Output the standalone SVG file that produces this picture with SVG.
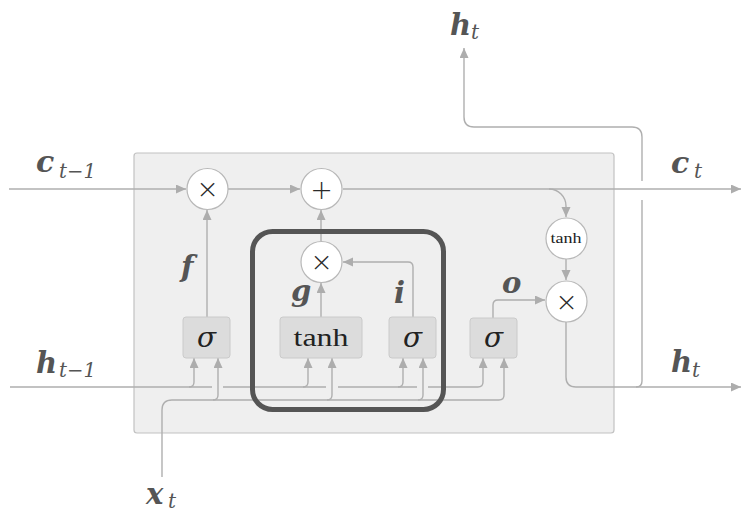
<svg xmlns="http://www.w3.org/2000/svg" width="754" height="521" viewBox="0 0 754 521">
<style>
.ln{fill:none;stroke:#afafaf;stroke-width:1.4}
.arr{marker-end:url(#ah)}
.op{fill:#fff;stroke:#b8b8b8;stroke-width:1.2}
.gate{fill:#dcdcdc;stroke:#cacaca;stroke-width:1}
.sym{font-family:"Liberation Serif",serif;fill:#222;text-anchor:middle}
.sig{font-family:"DejaVu Serif",serif;font-style:italic;fill:#222;text-anchor:middle}
.lab{font-family:"DejaVu Serif",serif;font-weight:bold;font-style:italic;fill:#555}
.sub{font-family:"DejaVu Serif",serif;font-style:italic;fill:#555}
.opt{font-family:"DejaVu Sans",sans-serif;fill:#2a2a2a;text-anchor:middle;font-weight:200}
</style>
<defs>
<marker id="ah" markerUnits="userSpaceOnUse" markerWidth="11" markerHeight="10" refX="10" refY="4.5" orient="auto">
<path d="M0,0 L10,4.5 L0,9 z" fill="#adadad"/>
</marker>
</defs>
<rect width="754" height="521" fill="#fff"/>
<g id="cell">
<rect x="134" y="153" width="480" height="280" rx="3" fill="#efefef" stroke="#c2c2c2" stroke-width="1.2"/>
</g>
<g id="connectors">
<path class="ln arr" d="M9 189 H186"/>
<path class="ln arr" d="M228 189 H300"/>
<path class="ln arr" d="M343 189 H741"/>
<path class="ln arr" d="M549 189 A17 17 0 0 1 566 206 V217"/>
<path class="ln arr" d="M566 259 V280"/>
<path class="ln arr" d="M207 318 V210"/>
<path class="ln arr" d="M321 317 V283"/>
<path class="ln arr" d="M321 241 V210"/>
<path class="ln arr" d="M413 318 V267 Q413 262 408 262 H343"/>
<path class="ln arr" d="M493 318 V305 Q493 300 498 300 H545"/>
<path class="ln arr" d="M566 322 V377 Q566 387 576 387 H741"/>
<path class="ln" d="M636 387 Q642 387 642 381 V200"/>
<path class="ln arr" d="M642 181 V137 Q642 127 632 127 H474 Q464 127 464 117 V48"/>
<path class="ln" d="M10 387 H212 M223 387 H326 M338 387 H417 M428 387 H478"/>
<path class="ln arr" d="M189 387 Q194 387 194 382 V358"/>
<path class="ln arr" d="M303 387 Q308 387 308 382 V358"/>
<path class="ln arr" d="M398 387 Q403 387 403 382 V358"/>
<path class="ln arr" d="M478 387 Q483 387 483 382 V358"/>
<path class="ln arr" d="M162 477 V410 Q162 400 172 400 H499 Q504 400 504 395 V358"/>
<path class="ln arr" d="M213 400 Q218 400 218 395 V358"/>
<path class="ln arr" d="M327 400 Q332 400 332 395 V358"/>
<path class="ln arr" d="M418 400 Q423 400 423 395 V358"/>
</g>
<g id="mul-f"><circle class="op" cx="207.5" cy="189" r="20.5"/><text class="opt" x="207.5" y="198" font-size="27">×</text></g>
<g id="add-c"><circle class="op" cx="321.5" cy="189" r="20.5"/><text class="opt" x="321.5" y="198.5" font-size="27">+</text></g>
<g id="mul-gi"><circle class="op" cx="321.5" cy="262" r="20.5"/><text class="opt" x="321.5" y="271" font-size="27">×</text></g>
<g id="tanh-c"><circle class="op" cx="566.5" cy="238.5" r="20.5"/><text class="sym" x="566" y="243" font-size="14" textLength="31" lengthAdjust="spacingAndGlyphs">tanh</text></g>
<g id="mul-o"><circle class="op" cx="566.5" cy="301.5" r="20.5"/><text class="opt" x="566.5" y="310.5" font-size="27">×</text></g>
<g id="gate-f"><rect class="gate" x="183" y="317" width="47" height="41" rx="3"/><text class="sig" x="206.5" y="347" font-size="28">σ</text></g>
<g id="gate-g"><rect class="gate" x="280" y="317" width="82" height="41" rx="3"/><text class="sym" x="321" y="346" font-size="26" textLength="55" lengthAdjust="spacingAndGlyphs">tanh</text></g>
<g id="gate-i"><rect class="gate" x="389" y="317" width="47" height="41" rx="3"/><text class="sig" x="412.5" y="347" font-size="28">σ</text></g>
<g id="gate-o"><rect class="gate" x="470" y="318" width="47" height="40" rx="3"/><text class="sig" x="493.5" y="347" font-size="28">σ</text></g>
<g id="highlight"><rect x="252.5" y="231.5" width="191" height="178" rx="20" fill="none" stroke="#555" stroke-width="5"/></g>
<g id="labels">
<text class="lab" x="181" y="277" font-size="29">f</text>
<text class="lab" x="291" y="301" font-size="29">g</text>
<text class="lab" x="394" y="303" font-size="29">i</text>
<text class="lab" x="502" y="293" font-size="29">o</text>
<text class="lab" x="36" y="172" font-size="30">c</text>
<text class="sub" x="59" y="178" font-size="20" textLength="37" lengthAdjust="spacingAndGlyphs">t−1</text>
<text class="lab" x="36" y="373" font-size="29">h</text>
<text class="sub" x="59" y="377" font-size="20" textLength="37" lengthAdjust="spacingAndGlyphs">t−1</text>
<text class="lab" x="671" y="173" font-size="30">c</text>
<text class="sub" x="694" y="178" font-size="20">t</text>
<text class="lab" x="671" y="372" font-size="29">h</text>
<text class="sub" x="692" y="377" font-size="20">t</text>
<text class="lab" x="450" y="35" font-size="29">h</text>
<text class="sub" x="471" y="39" font-size="20">t</text>
<text class="lab" x="146" y="504" font-size="29">x</text>
<text class="sub" x="168" y="508" font-size="20">t</text>
</g>
</svg>
